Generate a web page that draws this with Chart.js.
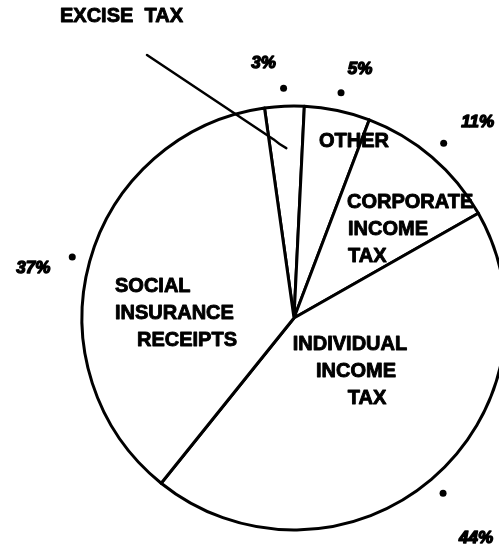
<!DOCTYPE html>
<html lang="en">
    <head>
        <meta charset="UTF-8">
        <title>Receipts by Source</title>
        <script src="https://cdn.jsdelivr.net/npm/chart.js"></script>
        <style>
            body { margin: 0; background: #fff; overflow: hidden; }
        </style>
    </head>
    <body>
        <canvas id="pie" width="499" height="554"></canvas>
    </body>
    <script>
        // Slices in clockwise order, starting just left of 12 o'clock
        const categories = ['EXCISE TAX', 'OTHER', 'CORPORATE INCOME TAX', 'INDIVIDUAL INCOME TAX', 'SOCIAL INSURANCE RECEIPTS'];
        const shares = [3, 5, 11, 44, 37];

        const FONT = '"Liberation Sans", Arial, sans-serif';

        // where the words go inside each slice (relative to the pie centre)
        const inside = [
            null, // excise tax is labelled outside with a leader line
            {x: 25, y: -171, align: 'left', lines: ['OTHER'], dx: [0]},
            {x: 53, y: -110, align: 'left', lines: ['CORPORATE', 'INCOME', 'TAX'], dx: [0, 1, 1]},
            {x: 56, y: 32, align: 'center', lines: ['INDIVIDUAL', 'INCOME', 'TAX'], dx: [0, 6, 17]},
            {x: -179, y: -26, align: 'left', lines: ['SOCIAL', 'INSURANCE', 'RECEIPTS'], dx: [0, 0, 22]},
        ];
        // nudge of each percent label away from its dot
        const pctNudge = [[-20, -25], [19, -24], [34, -21], [33, 45], [-39, 11]];

        // heavy, slightly smeared lettering like the print
        const ink = (ctx, txt, tx, ty) => {
            ctx.strokeText(txt, tx, ty);
            ctx.fillText(txt, tx, ty);
        };

        const labelsPlugin = {
            id: 'labels',
            afterDatasetsDraw(chart) {
                const ctx = chart.ctx;
                const arcs = chart.getDatasetMeta(0).data;
                ctx.save();
                ctx.fillStyle = '#000';
                ctx.strokeStyle = '#000';
                ctx.lineJoin = 'round';
                arcs.forEach((arc, i) => {
                    const {x, y, startAngle, endAngle, outerRadius} = arc;
                    const mid = (startAngle + endAngle) / 2;
                    // dot just outside the rim
                    const dr = outerRadius + 18;
                    const px = x + Math.cos(mid) * dr, py = y + Math.sin(mid) * dr;
                    ctx.beginPath();
                    ctx.arc(px, py, 3.5, 0, Math.PI * 2);
                    ctx.fill();
                    // percent
                    ctx.font = 'italic bold 17px ' + FONT;
                    ctx.lineWidth = 1.4;
                    ctx.textAlign = 'center';
                    ctx.textBaseline = 'middle';
                    ink(ctx, shares[i] + '%', px + pctNudge[i][0], py + pctNudge[i][1]);

                    const lay = inside[i];
                    ctx.font = 'bold 20px ' + FONT;
                    ctx.lineWidth = 0.9;
                    ctx.textBaseline = 'alphabetic';
                    if (lay) {
                        ctx.textAlign = lay.align;
                        lay.lines.forEach((ln, k) => {
                            ink(ctx, ln, x + lay.x + lay.dx[k], y + lay.y + k * 27);
                        });
                    } else {
                        // outside label with leader into the thin slice
                        ctx.textAlign = 'left';
                        ink(ctx, 'EXCISE  TAX', 60, 22);
                        const ex = x + Math.cos(mid) * 170, ey = y + Math.sin(mid) * 170;
                        ctx.lineWidth = 2.5;
                        ctx.lineCap = 'round';
                        ctx.beginPath();
                        ctx.moveTo(147, 55);
                        ctx.lineTo(ex - 13, ey - 9);
                        ctx.quadraticCurveTo(ex - 6, ey - 3, ex, ey);
                        ctx.stroke();
                    }
                });
                ctx.restore();
            }
        };

        new Chart(document.getElementById('pie'), {
            type: 'pie',
            data: {
                labels: categories,
                datasets: [{
                    data: shares,
                    backgroundColor: '#fff',
                    borderColor: '#000',
                    borderWidth: 3,
                    borderJoinStyle: 'round',
                }]
            },
            options: {
                responsive: false,
                devicePixelRatio: 1,
                animation: false,
                events: [],
                rotation: -8,
                radius: 212,
                layout: { padding: { left: 89, right: 0, top: 82, bottom: 0 } },
                plugins: {
                    legend: { display: false },
                    tooltip: { enabled: false },
                }
            },
            plugins: [labelsPlugin]
        });
    </script>
</html>
